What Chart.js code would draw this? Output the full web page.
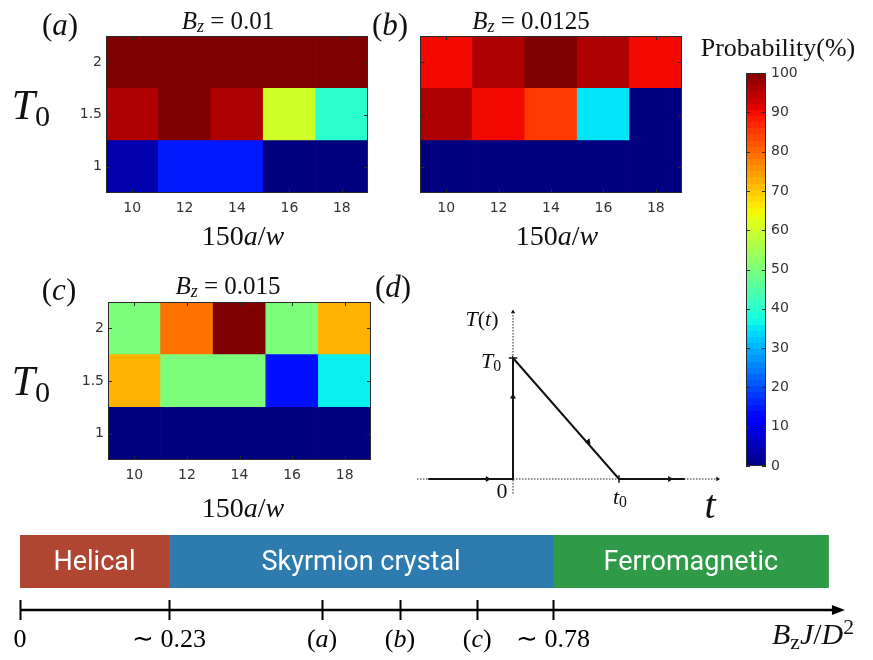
<!DOCTYPE html>
<html>
<head>
<meta charset="utf-8">
<script src="https://cdn.jsdelivr.net/npm/chart.js@4.4.1/dist/chart.umd.min.js"></script>
<style>
  body { margin: 0; background: #fff; }
  #fig { position: relative; width: 873px; height: 660px; overflow: hidden; font-family: "Liberation Serif", serif; }
  #fig canvas { position: absolute; }
  .m { position: absolute; transform: translate(-50%, -50%); white-space: nowrap; color: #111; line-height: 1; }
  .m sub { font-size: 72%; line-height: 0; vertical-align: -0.22em; }
  .m sup { font-size: 72%; line-height: 0; vertical-align: 0.45em; }
</style>
</head>
<body>
<div id="fig">
  <canvas id="heatA" width="378" height="250" style="left:0;top:0"></canvas>
  <canvas id="heatB" width="378" height="250" style="left:314px;top:0"></canvas>
  <canvas id="heatC" width="379" height="251" style="left:2px;top:266px"></canvas>
  <canvas id="colorbar" width="173" height="450" style="left:700px;top:30px"></canvas>
  <canvas id="quench" width="360" height="230" style="left:380px;top:290px"></canvas>
  <canvas id="phases" width="873" height="140" style="left:0;top:520px"></canvas>

  <div class="m" style="left:60px;top:24px;font-size:31px">(<i>a</i>)</div>
  <div class="m" style="left:228px;top:20px;font-size:25px"><i>B<sub>z</sub></i> = 0.01</div>
  <div class="m" style="left:31px;top:105px;font-size:42px"><i>T</i><sub>0</sub></div>
  <div class="m" style="left:243px;top:236px;font-size:28px">150<i>a</i>/<i>w</i></div>

  <div class="m" style="left:390px;top:24px;font-size:31px">(<i>b</i>)</div>
  <div class="m" style="left:531px;top:20px;font-size:25px"><i>B<sub>z</sub></i> = 0.0125</div>
  <div class="m" style="left:557px;top:236px;font-size:28px">150<i>a</i>/<i>w</i></div>

  <div class="m" style="left:59px;top:289px;font-size:31px">(<i>c</i>)</div>
  <div class="m" style="left:228px;top:285px;font-size:25px"><i>B<sub>z</sub></i> = 0.015</div>
  <div class="m" style="left:31px;top:381px;font-size:42px"><i>T</i><sub>0</sub></div>
  <div class="m" style="left:243px;top:508px;font-size:28px">150<i>a</i>/<i>w</i></div>

  <div class="m" style="left:393px;top:286px;font-size:31px">(<i>d</i>)</div>
  <div class="m" style="left:482px;top:319px;font-size:22px"><i>T</i>(<i>t</i>)</div>
  <div class="m" style="left:491px;top:361px;font-size:22px"><i>T</i><sub>0</sub></div>
  <div class="m" style="left:502px;top:491px;font-size:22px">0</div>
  <div class="m" style="left:620px;top:497px;font-size:22px"><i>t</i><sub>0</sub></div>
  <div class="m" style="left:710px;top:505px;font-size:40px"><i>t</i></div>

  <div class="m" style="left:778px;top:48px;font-size:26px">Probability(%)</div>
  <div class="m" style="left:813px;top:634px;font-size:30px"><i>B</i><sub>z</sub><i>J</i>/<i>D</i><sup>2</sup></div>
</div>

<script>
// heat maps: probability (%) of ending in a skyrmion crystal
var widths = [10, 12, 14, 16, 18];   // 150a/w
var temps = [1, 1.5, 2];             // T0, rows bottom -> top
// rows follow temps order
var probA = [[4, 15, 15, 0, 0], [96, 100, 96, 60, 40], [100, 100, 100, 100, 100]];
var probB = [[0, 0, 0, 0, 0], [96, 90, 85, 35, 0], [90, 96, 100, 96, 90]];
var probC = [[0, 0, 0, 0, 0], [72, 50, 50, 14, 36], [50, 79, 100, 50, 72]];

// colorbar
var cbRange = [0, 100];

// (d) temperature protocol
var rampTime = [-0.8, 0, 0, 1, 1.62];
var rampTemp = [0, 0, 1, 0, 0];
var arrowTime = [-0.24, 0, 0.71, 1.48];
var arrowTemp = [0, 0.68, 0.31, 0];
var arrowDir = [90, 0, 139, 90];
var timeAxis = [-0.906, 1.93];
var tempAxis = [-0.12, 1.38];

// phase diagram
var phaseNames = ['Helical', 'Skyrmion crystal', 'Ferromagnetic'];
var phaseEdges = [0, 0.218, 0.78, 1.183];
var markValues = [0, 0.218, 0.442, 0.556, 0.669, 0.78];
var markLabels = ['0', '\u223C 0.23', '(a)', '(b)', '(c)', '\u223C 0.78'];
var axisEnd = 1.207;

var phaseColors = ['#b04632', '#2e7bb0', '#2f9a48'];
var tickFont = { family: 'DejaVu Sans', size: 14 };

// matplotlib "jet"
function seg(pts, v) {
  for (var i = 0; i < pts.length - 1; i++) {
    if (v <= pts[i + 1][0]) {
      var f = (v - pts[i][0]) / (pts[i + 1][0] - pts[i][0]);
      return pts[i][1] + f * (pts[i + 1][1] - pts[i][1]);
    }
  }
  return pts[pts.length - 1][1];
}
function jet(p) {
  var v = Math.max(0, Math.min(1, p / 100));
  var r = seg([[0, 0], [0.35, 0], [0.66, 1], [0.89, 1], [1, 0.5]], v);
  var g = seg([[0, 0], [0.125, 0], [0.375, 1], [0.64, 1], [0.91, 0], [1, 0]], v);
  var b = seg([[0, 0.5], [0.11, 1], [0.34, 1], [0.65, 0], [1, 0]], v);
  return 'rgb(' + Math.round(r * 255) + ',' + Math.round(g * 255) + ',' + Math.round(b * 255) + ')';
}

// box around the plot area plus small inward ticks
var framePlugin = {
  id: 'frame',
  afterDatasetsDraw: function (chart, args, opts) {
    var ctx = chart.ctx, a = chart.chartArea, len = 4;
    ctx.save();
    ctx.strokeStyle = '#2a2a2a';
    ctx.lineWidth = 1;
    ctx.strokeRect(Math.round(a.left) + 0.5, Math.round(a.top) + 0.5, Math.round(a.width) - 1, Math.round(a.height) - 1);
    ctx.beginPath();
    if (opts.xTicks) {
      chart.scales.x.ticks.forEach(function (t, i) {
        var x = Math.round(chart.scales.x.getPixelForTick(i)) + 0.5;
        ctx.moveTo(x, a.top); ctx.lineTo(x, a.top + len);
        ctx.moveTo(x, a.bottom); ctx.lineTo(x, a.bottom - len);
      });
    }
    if (opts.yTicks) {
      chart.scales.y.ticks.forEach(function (t, i) {
        var y = Math.round(chart.scales.y.getPixelForTick(i)) + 0.5;
        ctx.moveTo(a.left, y); ctx.lineTo(a.left + len, y);
        ctx.moveTo(a.right, y); ctx.lineTo(a.right - len, y);
      });
    }
    ctx.stroke();
    ctx.restore();
  }
};

function heatChart(id, probs, showY) {
  return new Chart(document.getElementById(id), {
    type: 'bar',
    data: {
      labels: widths.map(String),
      datasets: temps.map(function (T, r) {
        return {
          label: 'T0 = ' + T,
          data: widths.map(function () { return [T - 0.25, T + 0.25]; }),
          backgroundColor: probs[r].map(jet),
          borderWidth: 0,
          grouped: false,
          barPercentage: 1,
          categoryPercentage: 1
        };
      })
    },
    options: {
      responsive: false,
      animation: false,
      layout: { padding: { top: 36, right: 10 } },
      plugins: { legend: { display: false }, tooltip: { enabled: false }, frame: { xTicks: true, yTicks: true } },
      scales: {
        x: {
          grid: { display: false, drawTicks: false },
          border: { display: false },
          ticks: { font: tickFont, color: '#333', padding: 7 },
          afterFit: function (s) { s.height = 57; }
        },
        y: {
          min: 0.75, max: 2.25,
          grid: { display: false, drawTicks: false },
          border: { display: false },
          ticks: { display: showY, font: tickFont, color: '#333', padding: 4,
                   callback: function (v) { return String(v); } },
          afterBuildTicks: function (s) { s.ticks = temps.map(function (v) { return { value: v }; }); },
          afterFit: function (s) { s.width = 106; }
        }
      }
    },
    plugins: [framePlugin]
  });
}

heatChart('heatA', probA, true);
heatChart('heatB', probB, false);
heatChart('heatC', probC, true);

// colorbar
function jetGradient(chart) {
  var a = chart.chartArea;
  if (!a) return jet(50);
  var g = chart.ctx.createLinearGradient(0, a.bottom, 0, a.top);
  var n = 64;
  for (var i = 0; i < n; i++) {
    var c = jet((i + 0.5) / n * 100);
    g.addColorStop(i / n, c);
    g.addColorStop((i + 1) / n, c);
  }
  return g;
}

new Chart(document.getElementById('colorbar'), {
  type: 'bar',
  data: {
    labels: ['Probability'],
    datasets: [{
      data: [cbRange],
      backgroundColor: function (c) { return jetGradient(c.chart); },
      borderWidth: 0,
      barPercentage: 1,
      categoryPercentage: 1
    }]
  },
  options: {
    responsive: false,
    animation: false,
    layout: { padding: { left: 46, top: 43, bottom: 14 } },
    plugins: { legend: { display: false }, tooltip: { enabled: false }, frame: { xTicks: false, yTicks: true } },
    scales: {
      x: { display: false },
      y: {
        position: 'right',
        min: cbRange[0], max: cbRange[1],
        grid: { display: false, drawTicks: false },
        border: { display: false },
        ticks: { stepSize: 10, font: tickFont, color: '#333', padding: 5 },
        afterFit: function (s) { s.width = 107; }
      }
    }
  },
  plugins: [framePlugin]
});

// (d) temperature vs time
function pts(xs, ys) { return xs.map(function (x, i) { return { x: x, y: ys[i] }; }); }

new Chart(document.getElementById('quench'), {
  type: 'line',
  data: {
    datasets: [
      { data: pts(timeAxis, [0, 0]), borderColor: '#222', borderWidth: 1, borderDash: [1.5, 1.5], pointRadius: 0 },
      { data: pts([0, 0], tempAxis), borderColor: '#222', borderWidth: 1, borderDash: [1.5, 1.5], pointRadius: 0 },
      { data: pts([timeAxis[1], 0], [0, tempAxis[1]]), showLine: false, pointStyle: 'triangle',
        pointRotation: [90, 0], pointRadius: 2.5, pointBackgroundColor: '#111', pointBorderWidth: 0 },
      { data: pts(rampTime, rampTemp), borderColor: '#111', borderWidth: 2, pointRadius: 0, tension: 0 },
      { data: pts([-0.04, 0.04], [1, 1]), borderColor: '#111', borderWidth: 1.5, pointRadius: 0 },
      { data: pts([1, 1], [-0.03, 0.03]), borderColor: '#111', borderWidth: 1.5, pointRadius: 0 },
      { data: pts(arrowTime, arrowTemp), showLine: false, pointStyle: 'triangle',
        pointRotation: arrowDir, pointRadius: 3.5, pointBackgroundColor: '#111', pointBorderWidth: 0 }
    ]
  },
  options: {
    responsive: false,
    animation: false,
    layout: { padding: { left: 27, right: 15, top: 19.6, bottom: 16.8 } },
    plugins: { legend: { display: false }, tooltip: { enabled: false } },
    scales: {
      x: { type: 'linear', min: -1, max: 2, display: false },
      y: { type: 'linear', min: -0.2, max: 1.4, display: false }
    }
  }
});

// phase diagram bar + axis
function drawMath(ctx, text, x, y, size) {
  var parts = text.split(/([a-z])/).filter(function (s) { return s.length; });
  var fonts = parts.map(function (s) {
    return (/^[a-z]$/.test(s) ? 'italic ' : '') + size + 'px "Liberation Serif"';
  });
  var w = 0;
  parts.forEach(function (s, i) { ctx.font = fonts[i]; w += ctx.measureText(s).width; });
  var cx = x - w / 2;
  parts.forEach(function (s, i) {
    ctx.font = fonts[i];
    ctx.fillText(s, cx, y);
    cx += ctx.measureText(s).width;
  });
}

var phaseAxisPlugin = {
  id: 'phaseAxis',
  afterDatasetsDraw: function (chart) {
    var ctx = chart.ctx, a = chart.chartArea, xs = chart.scales.x;
    ctx.save();
    // names inside the bars
    ctx.fillStyle = '#fff';
    ctx.font = '27px Roboto';
    ctx.textAlign = 'center';
    ctx.textBaseline = 'middle';
    chart.data.datasets.forEach(function (ds, i) {
      var bar = chart.getDatasetMeta(i).data[0];
      ctx.fillText(ds.label, (bar.x + bar.base) / 2, bar.y + 2);
    });
    // axis with arrow
    var y = a.bottom + 22;
    var x0 = xs.getPixelForValue(0), x1 = xs.getPixelForValue(axisEnd);
    ctx.strokeStyle = '#000';
    ctx.fillStyle = '#000';
    ctx.lineWidth = 2.5;
    ctx.beginPath();
    ctx.moveTo(x0, y); ctx.lineTo(x1 - 8, y);
    ctx.stroke();
    ctx.beginPath();
    ctx.moveTo(x1, y); ctx.lineTo(x1 - 13, y - 5); ctx.lineTo(x1 - 13, y + 5); ctx.closePath();
    ctx.fill();
    ctx.lineWidth = 2;
    ctx.beginPath();
    markValues.forEach(function (v) {
      var x = Math.round(xs.getPixelForValue(v)) + 0.5;
      ctx.moveTo(x, y - 10); ctx.lineTo(x, y + 10);
    });
    ctx.stroke();
    ctx.textAlign = 'left';
    ctx.textBaseline = 'alphabetic';
    markValues.forEach(function (v, i) {
      drawMath(ctx, markLabels[i], xs.getPixelForValue(v), a.bottom + 59, 26);
    });
    ctx.restore();
  }
};

new Chart(document.getElementById('phases'), {
  type: 'bar',
  data: {
    labels: ['phase'],
    datasets: phaseNames.map(function (name, i) {
      return {
        label: name,
        data: [[phaseEdges[i], phaseEdges[i + 1]]],
        backgroundColor: phaseColors[i],
        borderWidth: 0,
        grouped: false,
        barPercentage: 1,
        categoryPercentage: 1
      };
    })
  },
  options: {
    indexAxis: 'y',
    responsive: false,
    animation: false,
    layout: { padding: { left: 20, right: 26, top: 15, bottom: 72 } },
    plugins: { legend: { display: false }, tooltip: { enabled: false } },
    scales: {
      x: { type: 'linear', min: 0, max: 1.21, display: false },
      y: { display: false }
    }
  },
  plugins: [phaseAxisPlugin]
});
</script>
</body>
</html>
